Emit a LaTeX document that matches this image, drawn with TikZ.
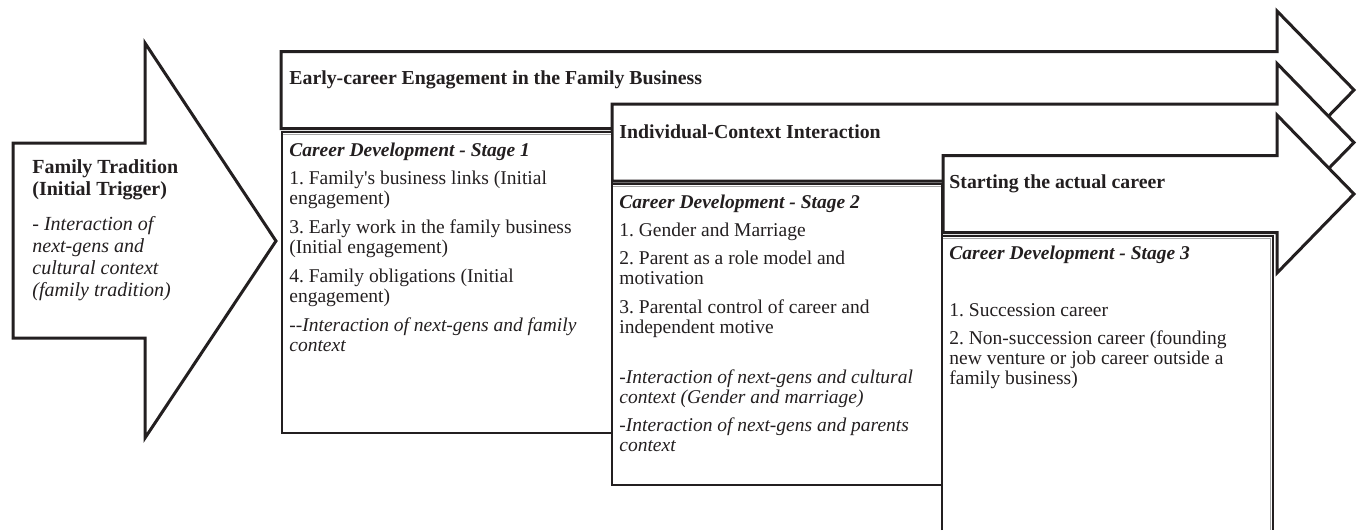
\documentclass[tikz,border=0pt]{standalone}
\usepackage{fontspec}
\setmainfont{Liberation Serif}
\frenchspacing
\definecolor{ink}{HTML}{231F20}
\tikzset{
  bigarrow/.style={draw=ink, line width=1.5pt, fill=white, line join=miter},
  stagebox/.style={draw=ink, line width=0.8pt, fill=white},
  innerline/.style={draw=gray!70, line width=0.5pt},
  boxtext/.style={anchor=north west, inner sep=0pt, align=left, text=ink,
    font=\fontsize{9.75}{10}\selectfont},
  headtext/.style={anchor=west, inner sep=0pt, text=ink,
    font=\fontsize{9.9}{10}\selectfont\bfseries},
}
\begin{document}
\begin{tikzpicture}[x=0.5pt, y=-0.5pt]
    \useasboundingbox (0, 0) rectangle (1359, 530);
    % trigger arrow on the left
    \draw [bigarrow] (13, 143) -- (145, 143) -- (145, 43) -- (276, 241)
        -- (145, 438) -- (145, 338) -- (13, 338) -- cycle;
    \node [boxtext, font=\fontsize{10}{10.9}\selectfont] (famtext) at (32, 159)
        {\textbf{Family Tradition}\\ \textbf{(Initial Trigger)}\\[7pt]
         \textit{- Interaction of}\\ \textit{next-gens and}\\
         \textit{cultural context}\\ \textit{(family tradition)}};
    % the three long arrows
    \foreach \lx/\cy in {281/90, 612/142.5, 943/194}
        \draw [bigarrow] (\lx, \cy - 38.5) -- (1277, \cy - 38.5) -- (1277, \cy - 79)
            -- (1354, \cy) -- (1277, \cy + 79) -- (1277, \cy + 38.5)
            -- (\lx, \cy + 38.5) -- cycle;
    \node [headtext] (earlyhead) at (289, 80)
        {Early-career Engagement in the Family Business};
    \node [headtext] (indivhead) at (619, 132) {Individual-Context Interaction};
    \node [headtext] (starthead) at (949, 184) {Starting the actual career};
    % stage boxes
    \draw [stagebox] (282, 132) rectangle (612, 433);
    \draw [stagebox] (612, 184) rectangle (942, 485);
    \draw [stagebox] (942, 530) -- (942, 236) -- (1273, 236) -- (1273, 530);
    \draw [innerline] (283, 134.5) -- (611, 134.5);
    \draw [innerline] (613, 186.5) -- (941, 186.5);
    \draw [innerline] (943, 238.5) -- (1270.5, 238.5) -- (1270.5, 530);
    \node [boxtext] (stageonetext) at (289, 143)
        {\textbf{\textit{Career Development - Stage 1}}\\[4pt]
         1. Family\textquotesingle s business links (Initial\\ engagement)\\[4.5pt]
         3. Early work in the family business\\ (Initial engagement)\\[4.5pt]
         4. Family obligations (Initial\\ engagement)\\[4.5pt]
         \textit{-{}-Interaction of next-gens and family}\\ \textit{context}};
    \node [boxtext] (stagetwotext) at (619, 195)
        {\textbf{\textit{Career Development - Stage 2}}\\[4pt]
         1. Gender and Marriage\\[4pt]
         2. Parent as a role model and\\ motivation\\[4.5pt]
         3. Parental control of career and\\ independent motive\\[15pt]
         \textit{-Interaction of next-gens and cultural}\\
         \textit{context (Gender and marriage)}\\[4pt]
         \textit{-Interaction of next-gens and parents}\\ \textit{context}};
    \node [boxtext] (stagethreetext) at (949, 246)
        {\textbf{\textit{Career Development - Stage 3}}\\[18.5pt]
         1. Succession career\\[4pt]
         2. Non-succession career (founding\\
         new venture or job career outside a\\ family business)};
\end{tikzpicture}
\end{document}
